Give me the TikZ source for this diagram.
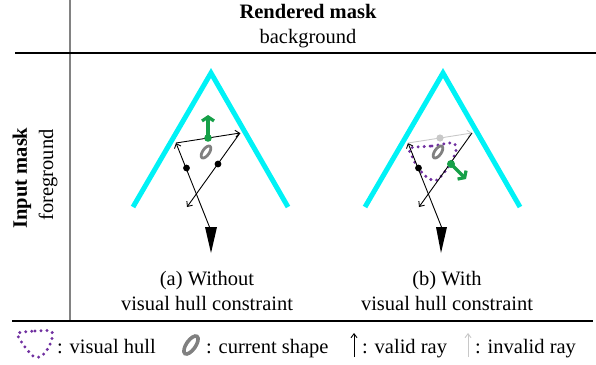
\documentclass[tikz,border=0pt]{standalone}
\usepackage{fontspec}
\setmainfont{Liberation Serif}
\usetikzlibrary{arrows.meta}
\definecolor{wallc}{RGB}{0,242,246}
\definecolor{hullc}{RGB}{112,48,160}
\definecolor{greenc}{RGB}{22,160,72}
\definecolor{shapec}{RGB}{128,128,128}
\definecolor{invc}{RGB}{200,200,200}
\definecolor{vlinec}{RGB}{130,130,130}
\begin{document}
\begin{tikzpicture}[x=1pt,y=-1pt,
  txt/.style={font=\fontsize{20.5}{24}\selectfont, inner sep=0pt},
  wall/.style={wallc, line width=5pt, line join=miter},
  ray/.style={line width=0.9pt, -{Straight Barb[length=4pt,width=7pt]}},
  bigtip/.style={fill=black},
  dotb/.style={fill=black},
  gdot/.style={fill=greenc},
  garrow/.style={greenc, line width=3.2pt, -{Straight Barb[length=4pt,width=12pt]}},
  curshape/.style={shapec, line width=2.8pt},
  hull/.style={hullc, line width=3.3pt, dash pattern=on 0pt off 6pt, line cap=round}
]
\useasboundingbox (0,0) rectangle (596,364);

% frame lines
\coordinate (vt) at (70,0);
\coordinate (vb) at (70,321);
\coordinate (hl) at (15,53);
\coordinate (hr) at (596,53);
\coordinate (bl) at (12,321);
\coordinate (br) at (593,321);
\draw[vlinec, line width=1.2pt] (vt) -- (vb);
\draw[line width=1.2pt] (hl) -- (hr);
\draw[line width=1.2pt] (bl) -- (br);

% headers
\node[txt, anchor=base, font=\fontsize{20.5}{24}\selectfont\bfseries] (hd1) at (308,18.5) {Rendered mask};
\node[txt, anchor=base] (hd2) at (308,43) {background};
\node[txt, rotate=90, font=\fontsize{20.5}{24}\selectfont\bfseries] (rl1) at (22,178) {Input mask};
\node[txt, rotate=90] (rl2) at (48,175) {foreground};

% ---------- panel (a) ----------
\coordinate (aL) at (133,207);
\coordinate (aP) at (211,73);
\coordinate (aR) at (288,207);
\draw[wall] (aL) -- (aP) -- (aR);
\coordinate (aA) at (176,143);
\coordinate (aB) at (240,133);
\coordinate (aC) at (187,207);
\coordinate (aT) at (209.5,227);
\coordinate (aT1) at (205,227);
\coordinate (aT2) at (217,227);
\coordinate (aTip) at (211,253);
\draw[ray] (aT) -- (aA);
\draw[ray] (aA) -- (aB);
\draw[ray] (aB) -- (aC);
\fill[bigtip] (aT1) -- (aT2) -- (aTip) -- cycle;
\fill[dotb] (186.5,168) circle (3.4);
\fill[dotb] (218,164) circle (3.4);
\draw[curshape, rotate around={-35:(206,152)}] (206,152) ellipse [x radius=3.3, y radius=7];
\coordinate (aG) at (208,138);
\coordinate (aGe) at (208,115);
\draw[garrow] (aG) -- (aGe);
\fill[gdot] (aG) circle (3.8);
\node[txt, anchor=base] (capa1) at (207,285) {(a) Without};
\node[txt, anchor=base] (capa2) at (207,310) {visual hull constraint};

% ---------- panel (b) ----------
\coordinate (bL) at (365,207);
\coordinate (bP) at (443,73);
\coordinate (bR) at (520,207);
\draw[wall] (bL) -- (bP) -- (bR);
\coordinate (bA) at (408,143);
\coordinate (bB) at (472,133);
\coordinate (bC) at (419,207);
\coordinate (bT) at (441.5,227);
\coordinate (bT1) at (436,227);
\coordinate (bT2) at (447,227);
\coordinate (bTip) at (441,253);
\draw[hull] plot[smooth cycle, tension=0.45] coordinates {(410,148) (432,146) (453,143) (456,151) (449,166) (437,180) (428,178) (418,168) (412,156)};
\draw[ray] (bT) -- (bA);
\draw[ray, invc] (bA) -- (bB);
\draw[ray] (bB) -- (bC);
\fill[bigtip] (bT1) -- (bT2) -- (bTip) -- cycle;
\fill[invc] (440,138) circle (3.6);
\fill[dotb] (418.5,168) circle (3.4);
\draw[curshape, rotate around={-35:(438,152)}] (438,152) ellipse [x radius=3.3, y radius=7];
\coordinate (bG) at (451,164);
\coordinate (bGe) at (466,179);
\draw[garrow] (bG) -- (bGe);
\fill[gdot] (bG) circle (4);
\node[txt, anchor=base] (capb1) at (447,285) {(b) With};
\node[txt, anchor=base] (capb2) at (447,310) {visual hull constraint};

% ---------- legend ----------
\draw[hull] plot[smooth cycle, tension=0.45] coordinates {(18,333) (35,331) (51,331) (52,339) (47,350) (40,357) (33,356) (25,347) (19,338)};
\node[txt, anchor=base west] (lg1) at (57,353) {: visual hull};
\draw[curshape, line width=3.6pt, rotate around={-35:(191,345)}] (191,345) ellipse [x radius=4.6, y radius=10.5];
\node[txt, anchor=base west] (lg2) at (206,353) {: current shape};
\coordinate (va0) at (354,357);
\coordinate (va1) at (354,333);
\draw[line width=0.9pt, -{Straight Barb[length=4pt,width=6pt]}] (va0) -- (va1);
\node[txt, anchor=base west] (lg3) at (362,353) {: valid ray};
\coordinate (ia0) at (468,357);
\coordinate (ia1) at (468,333);
\draw[invc, line width=0.9pt, -{Straight Barb[length=4pt,width=6pt]}] (ia0) -- (ia1);
\node[txt, anchor=base west] (lg4) at (475,353) {: invalid ray};
\end{tikzpicture}
\end{document}
